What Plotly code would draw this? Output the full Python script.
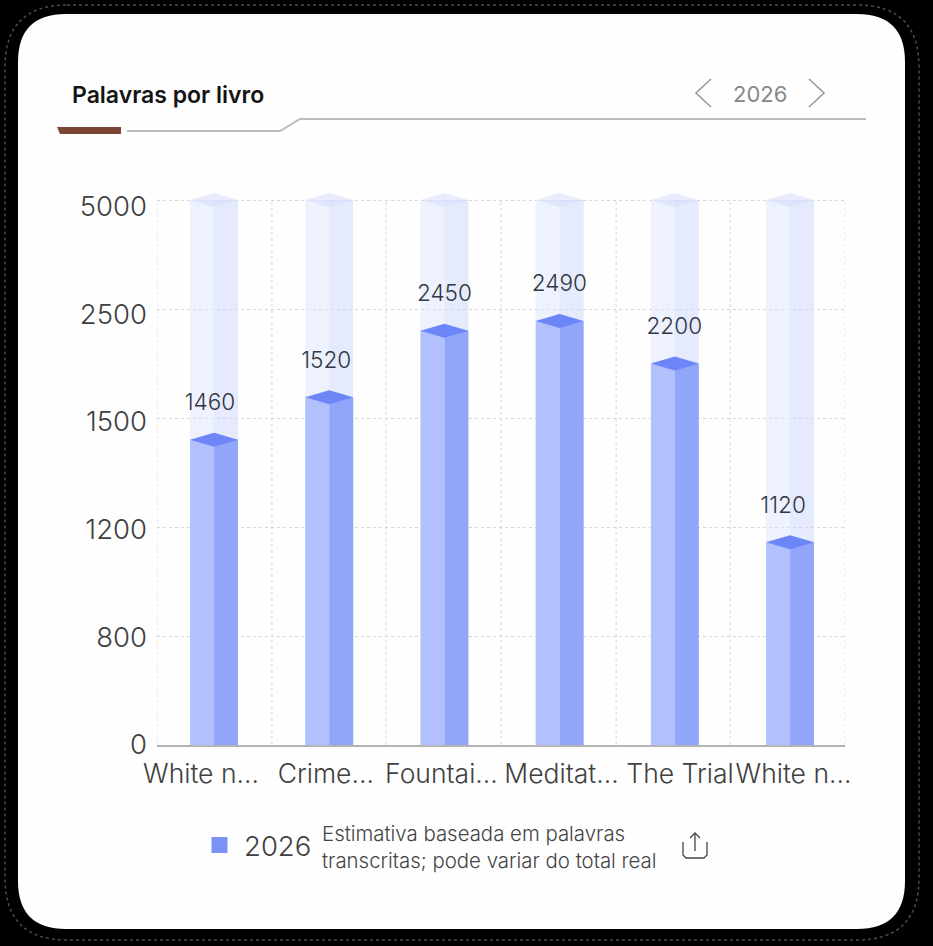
import plotly.graph_objects as go

W, H = 933, 946
L, R, T, B = 157, 845, 191, 745

categories = ["White n...", "Crime...", "Fountai...", "Meditat...", "The Trial", "White n..."]
word_labels = [1460, 1520, 2450, 2490, 2200, 1120]
# bar tops, in steps of the evenly spaced value axis
bar_heights = [2.80, 3.19, 3.80, 3.89, 3.50, 1.86]
grid_positions = [0, 1, 2, 3, 4, 5]
tick_labels = ["0", "800", "1200", "1500", "2500", "5000"]
# the picture's labels sit a little off the bars and gridlines
tick_label_y = [0.0275, 1.009, 2.0, 2.99, 3.972, 4.963]
category_label_x = [-0.113, 0.97, 1.974, 3.016, 4.045, 5.03]
value_label_x = [-0.035, 0.974, 2.0, 2.998, 3.995, 4.94]
ghost_height = 5
series_name = "2026"

FONT = "Inter"
x_range = [-0.495, 5.477]
y_range = [0, 5.0826]
vgrid_x = [x_range[0], 0.503, 1.493, 2.491, 3.49, 4.48, x_range[1]]
bar_half = 0.208
cap = 0.064
label_gap = 0.22
x = list(range(len(categories)))


def px(v):
    return (v - L) / (R - L)


def py(v):
    return (B - v) / (B - T)


def path(points, close=False):
    s = "M " + " L ".join(f"{px(a):.5f} {py(b):.5f}" for a, b in points)
    return s + (" Z" if close else "")


def rounded(x0, y0, x1, y1, r):
    return (f"M {px(x0 + r):.5f} {py(y0):.5f} L {px(x1 - r):.5f} {py(y0):.5f} "
            f"Q {px(x1):.5f} {py(y0):.5f} {px(x1):.5f} {py(y0 + r):.5f} L {px(x1):.5f} {py(y1 - r):.5f} "
            f"Q {px(x1):.5f} {py(y1):.5f} {px(x1 - r):.5f} {py(y1):.5f} L {px(x0 + r):.5f} {py(y1):.5f} "
            f"Q {px(x0):.5f} {py(y1):.5f} {px(x0):.5f} {py(y1 - r):.5f} L {px(x0):.5f} {py(y0 + r):.5f} "
            f"Q {px(x0):.5f} {py(y0):.5f} {px(x0 + r):.5f} {py(y0):.5f} Z")


def caps(heights):
    xs, ys = [], []
    for i, h in zip(x, heights):
        xs += [i - bar_half, i, i + bar_half, i, i - bar_half, None]
        ys += [h, h + cap, h, h - cap, h, None]
    return xs, ys


fig = go.Figure()
left_x = [i - bar_half / 2 for i in x]
right_x = [i + bar_half / 2 for i in x]
ghosts = [ghost_height] * len(x)

vx, vy = [], []
for g in vgrid_x:
    vx += [g, g, None]
    vy += [0, ghost_height, None]
fig.add_trace(go.Scatter(x=vx, y=vy, mode="lines", line=dict(color="#d6d6d6", width=1, dash="dot"),
                         showlegend=False, hoverinfo="skip"))

for xs, col in ((left_x, "rgba(222,228,254,0.50)"), (right_x, "rgba(204,214,252,0.50)")):
    fig.add_trace(go.Bar(x=xs, y=ghosts, width=bar_half, marker=dict(color=col, line_width=0),
                         showlegend=False, hoverinfo="skip"))
gx, gy = caps(ghosts)
fig.add_trace(go.Scatter(x=gx, y=gy, mode="lines", fill="toself", fillcolor="rgba(214,221,252,0.55)",
                         line=dict(width=0), showlegend=False, hoverinfo="skip"))

for xs, col in ((left_x, "#b2c0fd"), (right_x, "#91a5fb")):
    fig.add_trace(go.Bar(x=xs, y=bar_heights, width=bar_half, marker=dict(color=col, line_width=0),
                         showlegend=False, hoverinfo="skip"))
cx, cy = caps(bar_heights)
fig.add_trace(go.Scatter(x=cx, y=cy, mode="lines", fill="toself", fillcolor="#6c85f7",
                         line=dict(width=0), showlegend=False, hoverinfo="skip"))

fig.add_trace(go.Scatter(x=value_label_x, y=[h + label_gap for h in bar_heights], mode="text",
                         text=[str(v) for v in word_labels], textposition="top center",
                         textfont=dict(family=FONT, size=22.6, color="#33373f", weight=300),
                         showlegend=False, hoverinfo="skip"))
fig.add_trace(go.Scatter(x=[None], y=[None], mode="markers", name=series_name,
                         marker=dict(symbol="square", size=16, color="#7b93f8")))

shapes = [
    dict(type="path", xref="paper", yref="paper", layer="below", fillcolor="rgba(0,0,0,0)",
         line=dict(color="#4c4c4c", width=1.5, dash="dot"), path=rounded(5, 5, 919, 940, 62)),
    dict(type="path", xref="paper", yref="paper", layer="below", fillcolor="#fefefe", line_width=0,
         path=rounded(18, 14, 905, 929, 48)),
    dict(type="path", xref="paper", yref="paper", fillcolor="#7b4634", line_width=0,
         path=path([(57, 127), (121, 127), (121, 134), (60, 134)], True)),
    dict(type="path", xref="paper", yref="paper", line=dict(color="#bcbcbc", width=2),
         path=path([(127, 131), (280, 131), (300, 119), (866, 119)])),
    dict(type="path", xref="paper", yref="paper", line=dict(color="#999999", width=1.6),
         path=path([(711, 79), (696, 93), (711, 107)])),
    dict(type="path", xref="paper", yref="paper", line=dict(color="#999999", width=1.6),
         path=path([(809, 79), (824, 93), (809, 107)])),
    dict(type="path", xref="paper", yref="paper", line=dict(color="#444444", width=1.3),
         path=path([(683, 842), (683, 855), (686, 858), (704, 858), (707, 855), (707, 842)])),
    dict(type="path", xref="paper", yref="paper", line=dict(color="#444444", width=1.3),
         path=path([(695, 851), (695, 833)])),
    dict(type="path", xref="paper", yref="paper", line=dict(color="#444444", width=1.3),
         path=path([(690, 838), (695, 833), (700, 838)])),
]


def note(text, xp, yp, size, color, anchor="left", weight=None):
    return dict(text=text, xref="paper", yref="paper", x=px(xp), y=py(yp), xanchor=anchor, yanchor="middle",
                align="left", showarrow=False,
                font=dict(family=FONT, size=size, color=color, weight=weight))


annotations = [
    note("Palavras por livro", 70, 95, 23, "#141414", weight=600),
    note("2026", 760, 94, 22, "#888888", anchor="center", weight=400),
    note("Estimativa baseada em palavras<br>transcritas; pode variar do total real", 320, 847, 20.4, "#444444", weight=300),
]

fig.update_layout(
    width=W, height=H, margin=dict(l=L, r=W - R, t=T, b=H - B),
    paper_bgcolor="#000000", plot_bgcolor="rgba(0,0,0,0)", barmode="overlay",
    font=dict(family=FONT, color="#444444"),
    shapes=shapes, annotations=annotations,
    xaxis=dict(range=x_range, tickmode="array", tickvals=category_label_x, ticktext=categories, tickangle=0,
               showgrid=False, zeroline=False, showline=True, linecolor="#b4b4b4", linewidth=1.5,
               ticks="", ticklabelstandoff=4, tickfont=dict(family=FONT, size=26.5, color="#404040", weight=300)),
    yaxis=dict(range=y_range, tickmode="array", tickvals=tick_label_y, ticktext=tick_labels,
               showgrid=False, zeroline=False,
               showline=False, ticks="", ticklabelstandoff=9, ticklabelshift=2,
               tickfont=dict(family=FONT, size=27.5, color="#404040", weight=300),
               minor=dict(tickmode="array", tickvals=grid_positions, showgrid=True,
                          gridcolor="#d6d6d6", gridwidth=1, griddash="dot", ticks="")),
    legend=dict(x=px(195), y=py(845), xanchor="left", yanchor="middle", orientation="h", itemwidth=39,
                font=dict(family=FONT, size=27.5, color="#404040", weight=300), bgcolor="rgba(0,0,0,0)"),
    hovermode=False,
)

fig.write_html("out.html", config=dict(displayModeBar=False),
               post_script="document.body.style.margin='0';document.body.style.background='#000';document.body.style.overflow='hidden';")
